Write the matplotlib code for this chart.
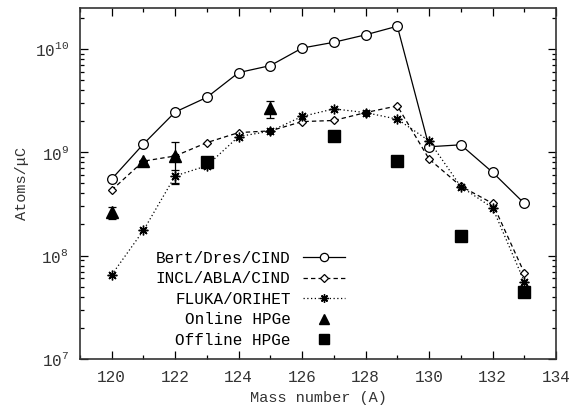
import matplotlib
matplotlib.use('Agg')
import matplotlib.pyplot as plt
import numpy as np

plt.rcParams['font.family'] = ['Liberation Mono', 'DejaVu Sans Mono']
plt.rcParams['mathtext.fontset'] = 'custom'
plt.rcParams['mathtext.rm'] = 'Liberation Mono'
plt.rcParams['mathtext.it'] = 'Liberation Mono'

# mass numbers and model predictions (atoms per microcoulomb)
mass = [120, 121, 122, 123, 124, 125, 126, 127, 128, 129, 130, 131, 132, 133]
bert = [5.5e8, 1.2e9, 2.45e9, 3.4e9, 5.9e9, 6.9e9, 1.02e10, 1.16e10, 1.37e10,
        1.66e10, 1.13e9, 1.18e9, 6.4e8, 3.2e8]
incl = [4.3e8, 8.2e8, 9.2e8, 1.24e9, 1.55e9, 1.61e9, 1.98e9, 2.03e9, 2.42e9,
        2.81e9, 8.6e8, 4.7e8, 3.2e8, 6.8e7]
fluka = [6.5e7, 1.75e8, 5.9e8, 7.4e8, 1.42e9, 1.6e9, 2.22e9, 2.63e9, 2.42e9,
         2.09e9, 1.29e9, 4.65e8, 2.9e8, 5.6e7]
fluka_lo = [0, 0, 1.0e8, 0, 0, 0, 0, 0, 0, 0, 0, 0, 0, 0]
fluka_hi = [0, 0, 0.9e8, 0, 0, 0, 0, 0, 0, 0, 0, 0, 0, 0]

# measurements
online_a = [120, 121, 122, 125]
online = [2.63e8, 8.2e8, 9.1e8, 2.71e9]
online_lo = [0.36e8, 0, 4.1e8, 0.57e9]
online_hi = [0.3e8, 0, 3.4e8, 0.39e9]

offline_a = [123, 127, 129, 131, 133]
offline = [8.1e8, 1.44e9, 8.3e8, 1.53e8, 4.4e7]

fig = plt.figure(figsize=(5.75, 4.12), dpi=100)
ax = fig.add_axes([0.139, 0.129, 0.828, 0.852])

lw = 0.9
ebar = dict(fmt='none', ecolor='black', capsize=3, elinewidth=0.9, capthick=0.9)

h1, = ax.plot(mass, bert, '-', color='black', lw=lw, marker='o', ms=7,
              mfc='white', mec='black', mew=0.9, label='Bert/Dres/CIND')
h2, = ax.plot(mass, incl, color='black', lw=lw, ls=(0, (3.5, 2.5)), marker='D',
              ms=4.5, mfc='white', mec='black', mew=0.9, label='INCL/ABLA/CIND')
ax.errorbar(mass, fluka, yerr=[fluka_lo, fluka_hi], **ebar)
h3, = ax.plot(mass, fluka, color='black', lw=lw, ls=(0, (1, 2)),
              marker=(8, 2, 0), ms=7, mew=1.0, label='FLUKA/ORIHET')
ax.errorbar(online_a, online, yerr=[online_lo, online_hi], **ebar)
h4, = ax.plot(online_a, online, '^', color='black', ms=9, label='Online HPGe')
h5, = ax.plot(offline_a, offline, 's', color='black', ms=8, label='Offline HPGe')

ax.set_yscale('log')
ax.set_xlim(119, 134)
ax.set_ylim(1e7, 2.5e10)
ax.set_xticks(np.arange(120, 135, 2))
ax.set_xticks(np.arange(119, 135, 1), minor=True)

ax.tick_params(which='both', direction='in', top=True, right=True,
               labelsize=11.5, pad=8, labelcolor='#333333')
ax.tick_params(which='major', length=6, width=0.9)
ax.tick_params(which='minor', length=3, width=0.9)
for s in ax.spines.values():
    s.set_linewidth(1.2)
    s.set_color('#333333')

ax.set_xlabel('Mass number (A)', fontsize=11, color='#333333')
ax.set_ylabel('Atoms/μC', fontsize=11, color='#333333')

leg = ax.legend(handles=[h1, h2, h3, h4, h5], loc='upper right',
                bbox_to_anchor=(0.58, 0.34), frameon=False,
                markerfirst=False, fontsize=11.5, handlelength=2.6,
                handletextpad=0.8, labelspacing=0.35, borderpad=0.2,
                markerscale=0.85)

fig.savefig('out.png', dpi=100)
